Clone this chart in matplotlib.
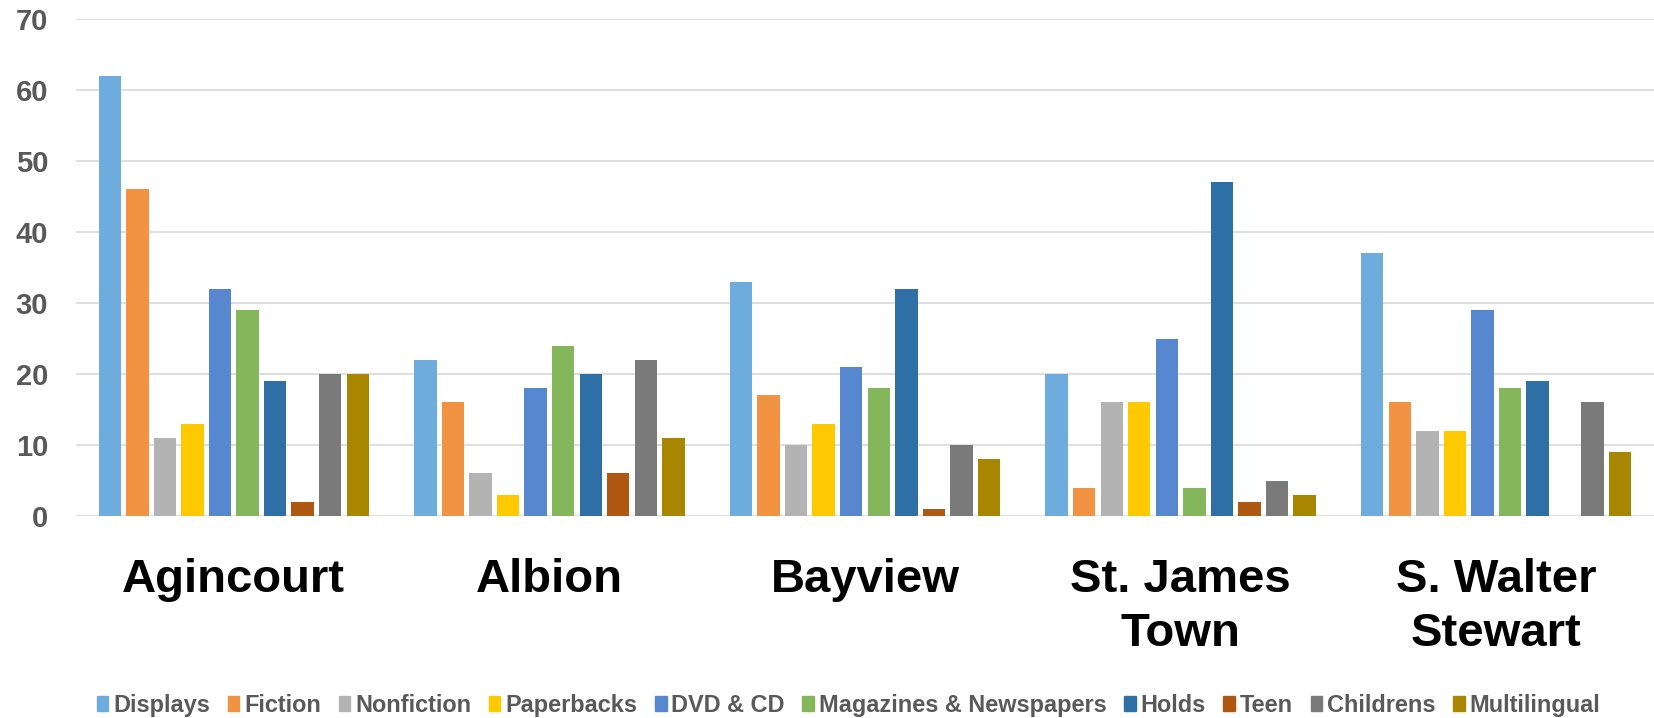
import numpy as np
import matplotlib.pyplot as plt
from matplotlib.patches import Patch

# branches and the counts per collection area
branches = ["Agincourt", "Albion", "Bayview", "St. James\nTown", "S. Walter\nStewart"]
series = ["Displays", "Fiction", "Nonfiction", "Paperbacks", "DVD & CD",
          "Magazines & Newspapers", "Holds", "Teen", "Childrens", "Multilingual"]
displays = [62, 22, 33, 20, 37]
fiction = [46, 16, 17, 4, 16]
nonfiction = [11, 6, 10, 16, 12]
paperbacks = [13, 3, 13, 16, 12]
dvd_cd = [32, 18, 21, 25, 29]
magazines = [29, 24, 18, 4, 18]
holds = [19, 20, 32, 47, 19]
teen = [2, 6, 1, 2, 0]
childrens = [20, 22, 10, 5, 16]
multilingual = [20, 11, 8, 3, 9]
values = [displays, fiction, nonfiction, paperbacks, dvd_cd,
          magazines, holds, teen, childrens, multilingual]

colors = ["#6DACDD", "#F19343", "#B3B3B3", "#FFC900", "#5687CF",
          "#84B75B", "#2E70A5", "#AE5811", "#7A7A7A", "#A88600"]

plt.rcParams['font.family'] = ['Liberation Sans', 'DejaVu Sans']

fig = plt.figure(figsize=(16.54, 7.18), dpi=100)
ax = fig.add_axes([76 / 1654, 202 / 718, 1 - 76 / 1654, 497 / 718])

x = np.arange(len(branches))
pitch = 0.0873
for i, (name, vals) in enumerate(zip(series, values)):
    offs = (i - (len(series) - 1) / 2) * pitch
    ax.bar(x + offs, vals, width=0.071, color=colors[i], linewidth=0,
           zorder=3, label=name)

ax.set_xlim(-0.5, len(branches) - 0.5)
ax.set_ylim(0, 70)
ax.set_yticks(range(0, 71, 10))
ax.yaxis.grid(True, color="#D9D9D9", linewidth=1.2, zorder=0)
for s in ax.spines.values():
    s.set_visible(False)
ax.tick_params(axis='y', length=0, pad=20, labelsize=21, labelcolor="#595959")
for lbl in ax.get_yticklabels():
    lbl.set_fontweight('bold')

ax.set_xticks(x)
ax.set_xticklabels(branches, fontsize=34, fontweight='bold', color='black',
                   linespacing=1.3, va='top')
ax.tick_params(axis='x', length=0, pad=30)

handles = [Patch(facecolor=c, edgecolor=c) for c in colors]
fig.legend(handles, series, loc='center', bbox_to_anchor=(0.513, 0.018),
           ncol=10, frameon=False, handlelength=0.5, handleheight=0.6,
           handletextpad=0.2, columnspacing=0.75,
           prop={'size': 16.9, 'weight': 'bold'}, labelcolor="#595959")

fig.savefig("out.png", dpi=100)
